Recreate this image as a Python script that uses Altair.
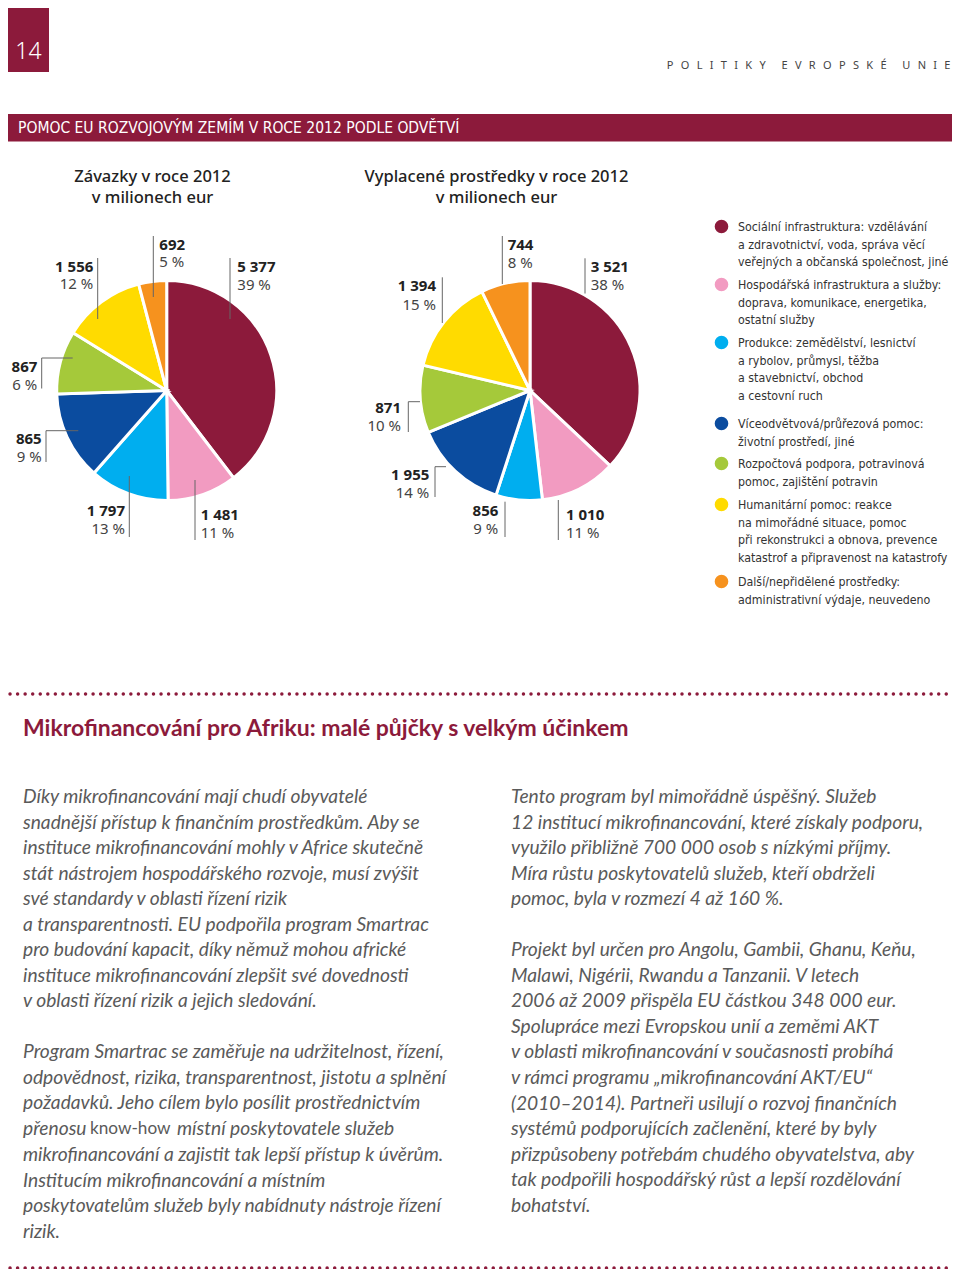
import altair as alt
import pandas as pd

# ---------------- data ----------------
sectors = ["Sociální infrastruktura", "Hospodářská infrastruktura", "Produkce",
           "Víceodvětvová pomoc", "Rozpočtová podpora", "Humanitární pomoc", "Další prostředky"]
sector_colors = ["#8c1a3b", "#f29bc1", "#00aeef", "#0b4c9f", "#a5c93a", "#ffdb00", "#f6921e"]

legend_lines = [
    ["Sociální infrastruktura: vzdělávání", "a zdravotnictví, voda, správa věcí", "veřejných a občanská společnost, jiné"],
    ["Hospodářská infrastruktura a služby:", "doprava, komunikace, energetika,", "ostatní služby"],
    ["Produkce: zemědělství, lesnictví", "a rybolov, průmysl, těžba", "a stavebnictví, obchod", "a cestovní ruch"],
    ["Víceodvětvová/průřezová pomoc:", "životní prostředí, jiné"],
    ["Rozpočtová podpora, potravinová", "pomoc, zajištění potravin"],
    ["Humanitární pomoc: reakce", "na mimořádné situace, pomoc", "při rekonstrukci a obnova, prevence", "katastrof a připravenost na katastrofy"],
    ["Další/nepřidělené prostředky:", "administrativní výdaje, neuvedeno"],
]

# Závazky (commitments), million EUR
commit_amounts = ["5 377", "1 481", "1 797", "865", "867", "1 556", "692"]
commit_percent = ["39 %", "11 %", "13 %", "9 %", "6 %", "12 %", "5 %"]
commit_share = [39.6, 10.2, 11.7, 13.0, 9.3, 12.1, 4.1]   # slice sizes

# Vyplacené prostředky (payments), million EUR
paid_amounts = ["3 521", "1 010", "856", "1 955", "871", "1 394", "744"]
paid_percent = ["38 %", "11 %", "9 %", "14 %", "10 %", "15 %", "8 %"]
paid_share = [37.0, 11.2, 6.8, 13.8, 9.9, 14.1, 7.2]       # slice sizes

pie_titles = [["Závazky v roce 2012", "v milionech eur"],
              ["Vyplacené prostředky v roce 2012", "v milionech eur"]]
page_number = "14"
running_head = "POLITIKY EVROPSKÉ UNIE"
banner_title = "POMOC EU ROZVOJOVÝM ZEMÍM V ROCE 2012 PODLE ODVĚTVÍ"
article_title = "Mikrofinancování pro Afriku: malé půjčky s velkým účinkem"

left_paragraphs = [
    ["Díky mikrofinancování mají chudí obyvatelé",
     "snadnější přístup k finančním prostředkům. Aby se",
     "instituce mikrofinancování mohly v Africe skutečně",
     "stát nástrojem hospodářského rozvoje, musí zvýšit",
     "své standardy v oblasti řízení rizik",
     "a transparentnosti. EU podpořila program Smartrac",
     "pro budování kapacit, díky němuž mohou africké",
     "instituce mikrofinancování zlepšit své dovednosti",
     "v oblasti řízení rizik a jejich sledování."],
    ["Program Smartrac se zaměřuje na udržitelnost, řízení,",
     "odpovědnost, rizika, transparentnost, jistotu a splnění",
     "požadavků. Jeho cílem bylo posílit prostřednictvím",
     "přenosu know-how místní poskytovatele služeb",
     "mikrofinancování a zajistit tak lepší přístup k úvěrům.",
     "Institucím mikrofinancování a místním",
     "poskytovatelům služeb byly nabídnuty nástroje řízení",
     "rizik."],
]
upright_phrase = "know-how"
right_paragraphs = [
    ["Tento program byl mimořádně úspěšný. Služeb",
     "12 institucí mikrofinancování, které získaly podporu,",
     "využilo přibližně 700 000 osob s nízkými příjmy.",
     "Míra růstu poskytovatelů služeb, kteří obdrželi",
     "pomoc, byla v rozmezí 4 až 160 %."],
    ["Projekt byl určen pro Angolu, Gambii, Ghanu, Keňu,",
     "Malawi, Nigérii, Rwandu a Tanzanii. V letech",
     "2006 až 2009 přispěla EU částkou 348 000 eur.",
     "Spolupráce mezi Evropskou unií a zeměmi AKT",
     "v oblasti mikrofinancování v současnosti probíhá",
     "v rámci programu „mikrofinancování AKT/EU“",
     "(2010–2014). Partneři usilují o rozvoj finančních",
     "systémů podporujících začlenění, které by byly",
     "přizpůsobeny potřebám chudého obyvatelstva, aby",
     "tak podpořili hospodářský růst a lepší rozdělování",
     "bohatství."],
]

# ---------------- layout (page coordinates) ----------------
W, H = 944, 1261
XS = alt.Scale(domain=[8, 8 + W], range=[0, W], nice=False, zero=False)
YS = alt.Scale(domain=[8, 8 + H], range=[0, H], nice=False, zero=False)
MAROON = "#8c1a3b"
SANS = "Noto Sans"
NARROW = "DejaVu Sans Condensed"
BODY = "Lato"

color_scale = alt.Scale(domain=sectors, range=sector_colors)


def X(f="x"):
    return alt.X(f"{f}:Q", scale=XS, axis=None)


def Y(f="y"):
    return alt.Y(f"{f}:Q", scale=YS, axis=None)


def texts(rows, **mark):
    df = pd.DataFrame(rows, columns=["x", "y", "t"])
    return alt.Chart(df).mark_text(**mark).encode(x=X(), y=Y(), text="t:N")


def block(lines, x0, y0, step):
    return [(x0, y0 + i * step, s) for i, s in enumerate(lines)]


layers = []

# header box, banner
rects = pd.DataFrame({"x": [8, 8], "x2": [49, 952], "y": [8, 114], "y2": [72, 141.5]})
layers.append(alt.Chart(rects).mark_rect(color=MAROON).encode(
    x=X(), x2="x2:Q", y=Y(), y2="y2:Q"))
layers.append(texts([(28.5, 52, page_number)], font=SANS, fontSize=23, color="white",
                    align="center", baseline="middle", fontWeight=300))
spaced = "\u2002\u2009\u2002\u2009\u200a".join("\u2002\u2009".join(w) for w in running_head.split(" "))
layers.append(texts([(950.5, 66, spaced)], font=SANS, fontSize=11, color="#444",
                    align="right", baseline="middle"))
layers.append(texts([(18, 128, banner_title)], font=NARROW, fontSize=15.5, color="white",
                    align="left", baseline="middle"))

# pie titles
layers.append(texts(block(pie_titles[0], 152.5, 177, 21) + block(pie_titles[1], 496.5, 177, 21),
                    font=SANS, fontSize=16.5, color="#222", align="center", baseline="middle",
                    fontWeight=500))


def pie(share, cx, cy):
    df = pd.DataFrame({"sector": sectors, "share": share, "k": list(range(len(sectors)))})
    return alt.Chart(df).mark_arc(outerRadius=110, stroke="white", strokeWidth=3).encode(
        theta=alt.Theta("share:Q", stack=True),
        color=alt.Color("sector:N", scale=color_scale, legend=None),
        order=alt.Order("k:Q"),
        x=alt.value(cx - 8), y=alt.value(cy - 8))


layers.append(pie(commit_share, 166.7, 390.5))
layers.append(pie(paid_share, 530, 390.5))

# label positions: (x, y_amount, y_percent, align) in sector order
commit_pos = [(237.3, 267.3, 284.5, "left"), (200.7, 515, 532.5, "left"),
              (125, 510.7, 528.5, "right"), (41.7, 439.3, 457, "right"),
              (37.3, 367.3, 384.5, "right"), (93.3, 267.3, 284, "right"),
              (159.3, 245, 262, "left")]
paid_pos = [(590.7, 267.3, 284.5, "left"), (566, 515, 532.5, "left"),
            (498.3, 510.7, 528.5, "right"), (429.3, 475, 492.5, "right"),
            (401, 408.3, 425.7, "right"), (436, 286, 304.5, "right"),
            (507.7, 245, 263.3, "left")]
leaders = [
    (230, 258, 230, 319), (195, 480, 195, 540), (129.3, 476, 129.3, 537),
    (46, 430.7, 46, 462), (46, 430.7, 78.3, 430.7),
    (41.7, 358, 41.7, 388.5), (41.7, 358, 72.7, 358),
    (97.7, 258, 97.7, 319), (153.3, 236, 153.3, 297),
    (585, 258.3, 585, 293.5), (558.3, 500, 558.3, 540), (505, 501.7, 505, 537),
    (435, 466.7, 435, 497), (435, 466.7, 446, 466.7),
    (408.3, 401.7, 408.3, 432), (408.3, 401.7, 420, 401.7),
    (442.3, 277.3, 442.3, 323), (502.3, 236, 502.3, 284),
]
ldf = pd.DataFrame(leaders, columns=["x", "y", "x2", "y2"])
layers.append(alt.Chart(ldf).mark_rule(color="#666", strokeWidth=1).encode(
    x=X(), y=Y(), x2="x2:Q", y2="y2:Q"))

for amounts, pcts, pos in [(commit_amounts, commit_percent, commit_pos),
                           (paid_amounts, paid_percent, paid_pos)]:
    for al in ["left", "right"]:
        a_rows = [(p[0], p[1], a) for a, p in zip(amounts, pos) if p[3] == al]
        p_rows = [(p[0], p[2], c) for c, p in zip(pcts, pos) if p[3] == al]
        layers.append(texts(a_rows, font=SANS, fontSize=15, fontWeight="bold", color="#222",
                            align=al, baseline="middle"))
        layers.append(texts(p_rows, font=SANS, fontSize=15, color="#444",
                            align=al, baseline="middle"))

# legend
legend_top = [227, 285, 343, 424, 464, 505, 582]
cdf = pd.DataFrame({"sector": sectors, "x": [721.5] * 7, "y": [v - 0.5 for v in legend_top]})
layers.append(alt.Chart(cdf).mark_circle(size=185, opacity=1).encode(
    x=X(), y=Y(), color=alt.Color("sector:N", scale=color_scale, legend=None)))
leg_rows = []
for lines, y0 in zip(legend_lines, legend_top):
    leg_rows += block(lines, 738, y0, 17.6)
layers.append(texts(leg_rows, font=NARROW, fontSize=12.3, color="#333",
                    align="left", baseline="middle"))

# dotted separators
dots = pd.DataFrame({"x": [10, 10], "x2": [951, 951], "y": [694, 1268]})
layers.append(alt.Chart(dots).mark_rule(color=MAROON, strokeWidth=3.4, strokeCap="round",
                                        strokeDash=[0.1, 7.45]).encode(x=X(), x2="x2:Q", y=Y()))

# article
layers.append(texts([(23, 729, article_title)], font=BODY, fontSize=23, fontWeight="bold",
                    color=MAROON, align="left", baseline="middle"))

BODY_FS = 19.2
special = left_paragraphs[1][3]
italic_rows = []
for rows in (block(left_paragraphs[0], 23, 797, 25.5), block(left_paragraphs[1], 23, 1052, 25.7),
             block(right_paragraphs[0], 511, 797, 25.5), block(right_paragraphs[1], 511, 950, 25.6)):
    for (x, y, s) in rows:
        if s == special:
            before, after = s.split(upright_phrase)
            italic_rows.append((x, y, before.strip()))
            italic_rows.append((177, y, after.strip()))
            layers.append(texts([(90, y, upright_phrase)], font=BODY, fontSize=BODY_FS - 2,
                                color="#5a5a5a", align="left", baseline="middle"))
        else:
            italic_rows.append((x, y, s))
layers.append(texts(italic_rows, font=BODY, fontSize=BODY_FS, fontStyle="italic", color="#5a5a5a",
                    align="left", baseline="middle"))

chart = alt.layer(*layers).resolve_scale(theta="independent").properties(
    width=W, height=H, autosize="none", padding=0
).configure_view(stroke=None)

chart.save("out.html", embed_options={"renderer": "svg", "actions": False})
